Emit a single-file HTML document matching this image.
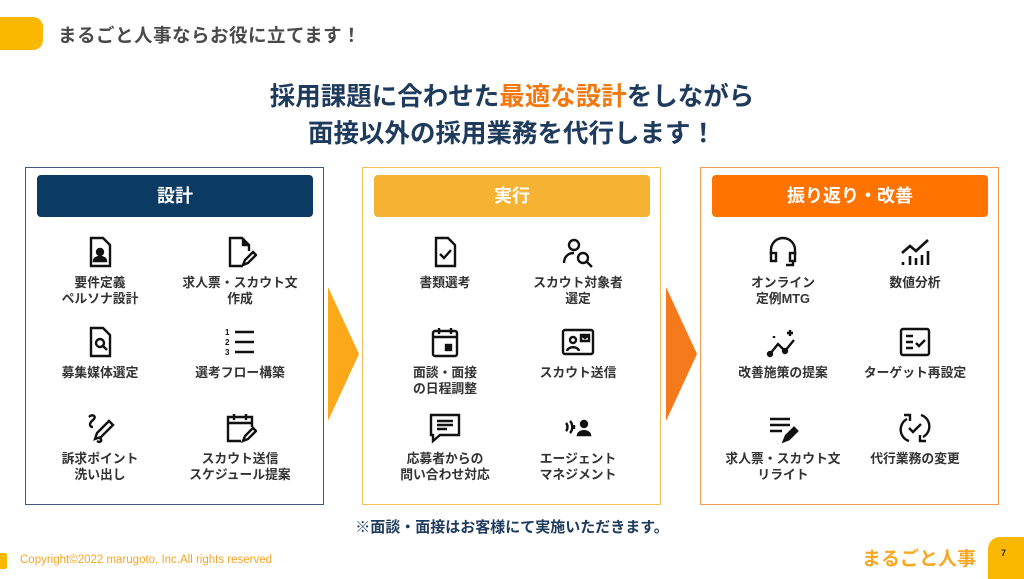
<!DOCTYPE html>
<html><head><meta charset="utf-8"><style>
*{margin:0;padding:0;box-sizing:border-box}
body{width:1024px;height:576px;background:#fff;position:relative;overflow:hidden;font-family:"Liberation Sans","Noto Sans CJK JP",sans-serif}
.a{position:absolute}
.box{position:absolute;top:167px;width:299px;height:338px;background:#fff}
.hd{position:absolute;top:175px;width:276px;height:42px;border-radius:4px;color:#fff;font-weight:bold;font-size:18px;text-align:center;line-height:42px}
.it{position:absolute;width:150px;margin-left:-75px;text-align:center}
.it svg{display:block;margin:0 auto;width:34px;height:34px}
.it div{font-size:12.8px;font-weight:bold;color:#333;line-height:15.5px;margin-top:6px}
</style></head><body>
<div class="a" style="left:-10px;top:17px;width:53px;height:33px;border-radius:10px;background:#FBB800"></div>
<div class="a" style="left:58px;top:22px;font-size:18.5px;font-weight:bold;color:#4a4a4a;letter-spacing:0.5px">まるごと人事ならお役に立てます！</div>
<div class="a" style="left:0;width:1024px;top:79px;text-align:center;font-size:25.5px;font-weight:bold;color:#1E3A5C;line-height:37px">採用課題に合わせた<span style="color:#F2780F">最適な設計</span>をしながら<br>面接以外の採用業務を代行します！</div>

<div class="box" style="left:25px;border:1px solid #3E5A7E"></div>
<div class="box" style="left:362px;border:1px solid #F8BE5A"></div>
<div class="box" style="left:700px;border:1px solid #F39A55"></div>
<div class="hd" style="left:37px;background:#0B3A63">設計</div>
<div class="hd" style="left:374px;background:#F6B233">実行</div>
<div class="hd" style="left:712px;background:#FF7300">振り返り・改善</div>

<svg class="a" style="left:328px;top:287px" width="32" height="134"><polygon points="0,0 31,67 0,134" fill="#FBA81A"/></svg>
<svg class="a" style="left:666px;top:287px" width="32" height="134"><polygon points="0,0 31,67 0,134" fill="#F57A1C"/></svg>

<!-- box1 -->
<div class="it" style="left:100px;top:235px"><svg viewBox="0 0 34 34" fill="none" stroke="#111" stroke-width="2.4"><path d="M8 3h12l7 7v21H8z"/><circle cx="17" cy="17" r="3" fill="#111"/><path d="M11 26a6 4 0 0 1 12 0z" fill="#111"/></svg><div>要件定義<br>ペルソナ設計</div></div>
<div class="it" style="left:240px;top:235px"><svg viewBox="0 0 34 34" fill="none" stroke="#111" stroke-width="2.4"><path d="M20 31H7V3h12l7 7v6"/><path d="M20 3v7h6" fill="#111"/><path d="M20 30l2-5 8-8 3 3-8 8z"/></svg><div>求人票・スカウト文<br>作成</div></div>
<div class="it" style="left:100px;top:325px"><svg viewBox="0 0 34 34" fill="none" stroke="#111" stroke-width="2.4"><path d="M8 3h12l7 7v21H8z"/><circle cx="17" cy="18" r="4"/><path d="M20 21l4 4"/></svg><div>募集媒体選定</div></div>
<div class="it" style="left:240px;top:325px"><svg viewBox="0 0 34 34" fill="none" stroke="#111" stroke-width="2.4"><path d="M12 7h19M12 17h19M12 27h19"/><text x="2" y="10" font-size="8" fill="#111" stroke="none" font-weight="bold">1</text><text x="2" y="20" font-size="8" fill="#111" stroke="none" font-weight="bold">2</text><text x="2" y="30" font-size="8" fill="#111" stroke="none" font-weight="bold">3</text></svg><div>選考フロー構築</div></div>
<div class="it" style="left:100px;top:411px"><svg viewBox="0 0 34 34" fill="none" stroke="#111" stroke-width="2.4"><path d="M6 6c4-4 8 0 4 3s-4 7 0 7"/><path d="M12 28l2-6 12-12 4 4-12 12z"/><path d="M14 30c3 2 6 0 3-3"/></svg><div>訴求ポイント<br>洗い出し</div></div>
<div class="it" style="left:240px;top:411px"><svg viewBox="0 0 34 34" fill="none" stroke="#111" stroke-width="2.4"><path d="M18 30H5V6h24v10M5 12h24M11 3v6M23 3v6"/><path d="M20 30l2-5 8-8 3 3-8 8z"/></svg><div>スカウト送信<br>スケジュール提案</div></div>

<!-- box2 -->
<div class="it" style="left:445px;top:235px"><svg viewBox="0 0 34 34" fill="none" stroke="#111" stroke-width="2.4"><path d="M8 3h12l7 7v21H8z"/><path d="M12 19l4 4 7-8"/></svg><div>書類選考</div></div>
<div class="it" style="left:578px;top:235px"><svg viewBox="0 0 34 34" fill="none" stroke="#111" stroke-width="2.4"><circle cx="13" cy="10" r="5"/><path d="M3 28c0-7 5-10 10-10"/><circle cx="22" cy="23" r="5"/><path d="M26 27l5 5"/></svg><div>スカウト対象者<br>選定</div></div>
<div class="it" style="left:445px;top:325px"><svg viewBox="0 0 34 34" fill="none" stroke="#111" stroke-width="2.4"><rect x="5" y="6" width="24" height="25" rx="2"/><path d="M5 12h24M11 3v6M23 3v6"/><rect x="18" y="20" width="5" height="5" fill="#111"/></svg><div>面談・面接<br>の日程調整</div></div>
<div class="it" style="left:578px;top:325px"><svg viewBox="0 0 34 34" fill="none" stroke="#111" stroke-width="2.4"><rect x="2" y="5" width="30" height="24" rx="2"/><circle cx="12" cy="15" r="3"/><path d="M6 26c1-5 11-5 12 0"/><path d="M20 10h8v6h-8zM20 10l4 3 4-3"/></svg><div>スカウト送信</div></div>
<div class="it" style="left:445px;top:411px"><svg viewBox="0 0 34 34" fill="none" stroke="#111" stroke-width="2.4"><path d="M3 4h28v20H12l-7 6v-6H3z"/><path d="M9 10h16M9 14h16M9 18h10"/></svg><div>応募者からの<br>問い合わせ対応</div></div>
<div class="it" style="left:578px;top:411px"><svg viewBox="0 0 34 34" fill="none" stroke="#111" stroke-width="2.4"><circle cx="23" cy="13" r="3" fill="#111"/><path d="M17 24c1-5 11-5 12 0z" fill="#111"/><path d="M5 12c2 2 2 6 0 8M9 10c3 3 3 9 0 12M13 14v4"/></svg><div>エージェント<br>マネジメント</div></div>

<!-- box3 -->
<div class="it" style="left:783px;top:235px"><svg viewBox="0 0 34 34" fill="none" stroke="#111" stroke-width="2.4"><path d="M5 20v-5a12 12 0 0 1 24 0v5"/><rect x="5" y="18" width="5" height="8"/><rect x="24" y="18" width="5" height="8"/><path d="M27 26v4h-7"/></svg><div>オンライン<br>定例MTG</div></div>
<div class="it" style="left:915px;top:235px"><svg viewBox="0 0 34 34" fill="none" stroke="#111" stroke-width="2.6"><path d="M4 18l8-7 6 5 12-11"/><path d="M5 30v-3M12 30v-9M18 30v-7M24 30v-10M30 30v-14"/></svg><div>数値分析</div></div>
<div class="it" style="left:783px;top:325px"><svg viewBox="0 0 34 34" fill="none" stroke="#111" stroke-width="2.4"><path d="M4 29l8-10 7 7 9-11"/><circle cx="4" cy="29" r="2" fill="#111"/><circle cx="19" cy="26" r="2" fill="#111"/><path d="M24 5v6M21 8h6M8 11v2"/></svg><div>改善施策の提案</div></div>
<div class="it" style="left:915px;top:325px"><svg viewBox="0 0 34 34" fill="none" stroke="#111" stroke-width="2.4"><rect x="3" y="4" width="28" height="26" rx="2"/><path d="M8 11h7M8 17h7M8 23h7M18 18l3 3 6-6"/></svg><div>ターゲット再設定</div></div>
<div class="it" style="left:783px;top:411px"><svg viewBox="0 0 34 34" fill="none" stroke="#111" stroke-width="2.6"><path d="M4 8h20M4 14h20M4 20h12"/><path d="M18 30l2-5 8-8 3 3-8 8z" fill="#111"/></svg><div>求人票・スカウト文<br>リライト</div></div>
<div class="it" style="left:915px;top:411px"><svg viewBox="0 0 34 34" fill="none" stroke="#111" stroke-width="2.4"><path d="M9 8a12 12 0 0 0 2 22M25 26A12 12 0 0 0 23 4"/><path d="M6 4h6v6M28 30h-6v-6"/><path d="M11 17l4 4 8-8"/></svg><div>代行業務の変更</div></div>

<div class="a" style="left:0;width:1024px;top:516px;text-align:center;font-size:15px;font-weight:bold;color:#1E3A5C">※面談・面接はお客様にて実施いただきます。</div>
<div class="a" style="left:-3px;top:553px;width:10px;height:16px;background:#FBB800;border-radius:2px"></div>
<div class="a" style="left:20px;top:554px;font-size:11.5px;color:#F5A623">Copyright©2022 marugoto, Inc.All rights reserved</div>
<div class="a" style="left:862px;top:544px;font-size:19px;font-weight:bold;color:#F9A825">まるごと人事</div>
<div class="a" style="left:988px;top:537px;width:40px;height:42px;background:#FBB800;border-top-left-radius:12px"></div>
<div class="a" style="left:1001px;top:548px;font-size:9px;font-weight:bold;color:#222">7</div>
</body></html>
